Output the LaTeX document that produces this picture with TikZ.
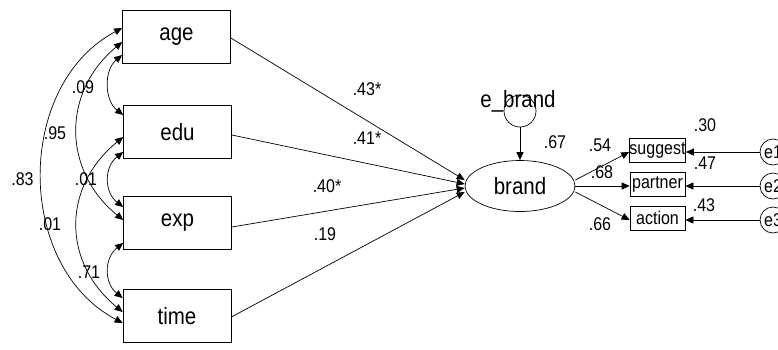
\documentclass[tikz,border=0pt]{standalone}
\usepackage{fontspec}
\setmainfont{Liberation Sans}
\usepackage{graphicx}
\usetikzlibrary{arrows.meta,shapes.geometric}
\newcommand{\vs}[1]{\scalebox{1}[1.15]{#1}}
\newcommand{\bigf}{\fontsize{20.5}{24}\selectfont}
\newcommand{\smallf}{\fontsize{16}{19}\selectfont}
\begin{document}
\begin{tikzpicture}[x=1pt,y=-1pt, line width=0.7pt,
 var/.style={draw, minimum width=108pt, minimum height=53pt, inner sep=0pt, font=\bigf},
 ind/.style={draw, minimum width=55pt, minimum height=24pt, inner sep=0pt, font=\smallf},
 err/.style={draw, circle, minimum size=26pt, inner sep=0pt, font=\smallf},
 lab/.style={inner sep=0pt, font=\smallf},
 arr/.style={-{Triangle[length=8pt,width=7pt]}},
 cov/.style={{Triangle[length=8pt,width=7pt]}-{Triangle[length=8pt,width=7pt]}}]
\useasboundingbox (0,0) rectangle (778,349);
% observed exogenous variables
\node[var] (age) at (176.5,36.5) {\vs{age}};
\node[var] (edu) at (177.5,132) {\vs{edu}};
\node[var] (exp) at (177.5,223) {\vs{exp}};
\node[var] (time) at (177,316) {\vs{time}};
% latent
\node[draw, ellipse, minimum width=110pt, minimum height=51pt, inner sep=0pt, font=\bigf] (brand) at (520,186) {\vs{brand}};
\node[draw, circle, minimum size=32pt, inner sep=0pt] (ebc) at (520,111) {};
\node[inner sep=0pt, font=\bigf] (ebl) at (518,101) {\vs{e\_brand}};
% indicators
\node[ind] (sug) at (657.5,150) {\vs{suggest}};
\node[ind] (par) at (657.5,184) {\vs{partner}};
\node[ind] (act) at (657.5,218) {\vs{action}};
\node[err] (e1) at (773,152) {\vs{e1}};
\node[err] (e2) at (773,186) {\vs{e2}};
\node[err] (e3) at (773,220) {\vs{e3}};
% error arrows
\draw[arr] (e1) -- ([yshift=-2pt]sug.east);
\draw[arr] (e2) -- ([yshift=-2pt]par.east);
\draw[arr] (e3) -- ([yshift=-2pt]act.east);
\draw[arr] (ebc) -- (brand);
% loadings
\draw[arr] ([yshift=6pt]brand.east) -- ([yshift=-2pt]sug.west);
\draw[arr] (brand.east) -- (brand.east -| par.west);
\draw[arr] ([yshift=-6pt]brand.east) -- ([yshift=-2pt]act.west);
% paths
\draw[arr] ([yshift=-1.5pt]age.east) -- ([yshift=6pt]brand.west);
\draw[arr] ([yshift=-3pt]edu.east) -- ([yshift=2pt]brand.west);
\draw[arr] ([yshift=-4pt]exp.east) -- ([yshift=-2pt]brand.west);
\draw[arr] ([yshift=-1pt]time.east) -- ([yshift=-6pt]brand.west);
% covariances
\draw[cov] ([yshift=-18.5pt]age.west) .. controls (104,70) and (104,100) .. ([yshift=17pt]edu.west);
\draw[cov] ([yshift=-20pt]edu.west) .. controls (104,167) and (104,192) .. ([yshift=16pt]exp.west);
\draw[cov] ([yshift=-20pt]exp.west) .. controls (104,258) and (104,283) .. ([yshift=18pt]time.west);
\draw[cov] ([yshift=-5.5pt]age.west) .. controls (62,92) and (62,170) .. ([yshift=3pt]exp.west);
\draw[cov] ([yshift=-5pt]edu.west) .. controls (62,187) and (62,262) .. ([yshift=4pt]time.west);
\draw[cov] ([yshift=8.5pt]age.west) .. controls (15,85) and (15,266) .. ([yshift=-7pt]time.west);
% covariance labels
\node[lab] (c1) at (83,87) {\vs{.09}};
\node[lab] (c2) at (55,133) {\vs{.95}};
\node[lab] (c3) at (22.5,179) {\vs{.83}};
\node[lab] (c4) at (86,179) {\vs{.01}};
\node[lab] (c5) at (50,224) {\vs{.01}};
\node[lab] (c6) at (89,272) {\vs{.71}};
% path labels
\node[lab] (p1) at (367,89) {\vs{.43*}};
\node[lab] (p2) at (367,138) {\vs{.41*}};
\node[lab] (p3) at (327,186) {\vs{.40*}};
\node[lab] (p4) at (325,234) {\vs{.19}};
% latent labels
\node[lab] (r2) at (555,142) {\vs{.67}};
\node[lab] (l1) at (600,145) {\vs{.54}};
\node[lab] (l2) at (602,172) {\vs{.68}};
\node[lab] (l3) at (600,224) {\vs{.66}};
\node[lab] (s1) at (705,125) {\vs{.30}};
\node[lab] (s2) at (705,163) {\vs{.47}};
\node[lab] (s3) at (704,205) {\vs{.43}};
\end{tikzpicture}
\end{document}
